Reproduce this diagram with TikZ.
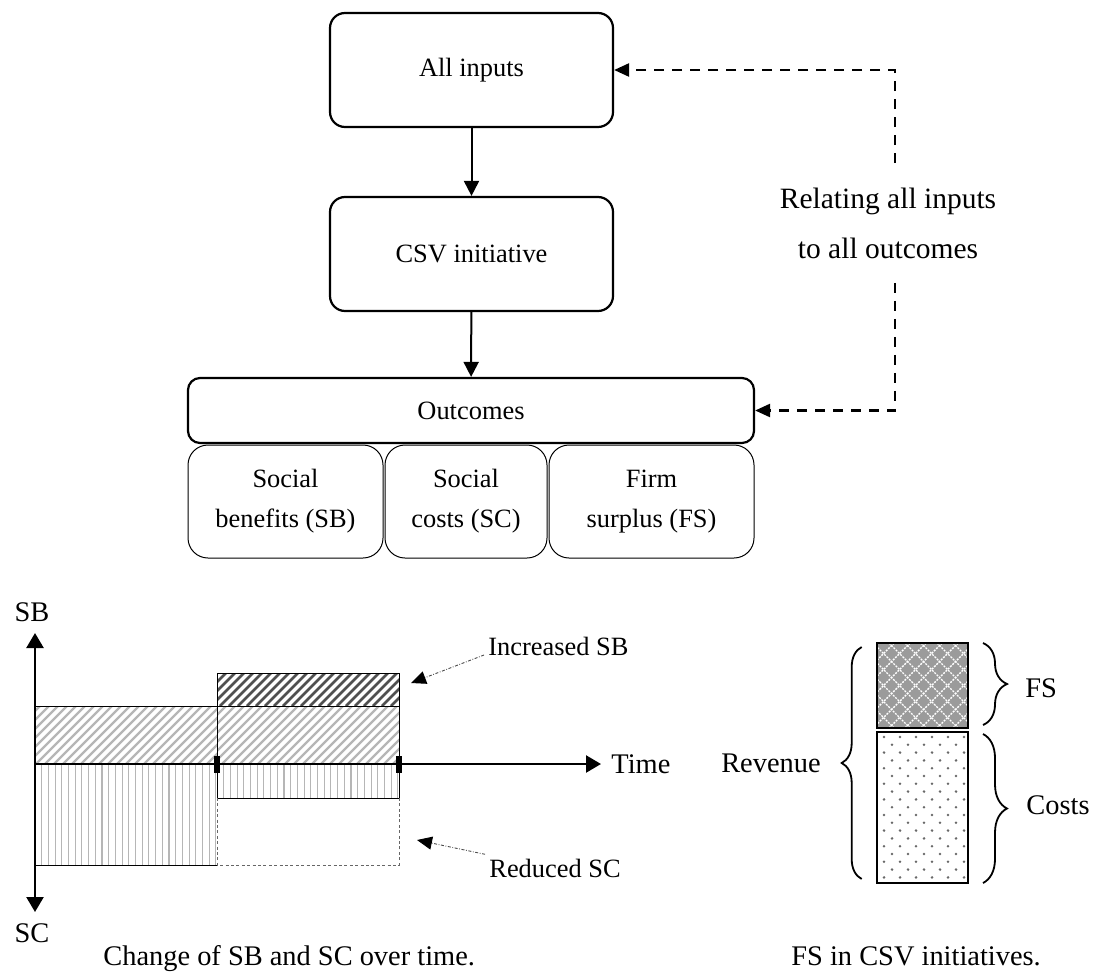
\documentclass[tikz,border=0pt]{standalone}
\usepackage{fontspec}
\setmainfont{Liberation Serif}
\usetikzlibrary{arrows.meta,decorations.pathreplacing}

\newcommand\boxfont{\fontsize{13.2}{20}\selectfont}
\newcommand\labfont{\fontsize{14.2}{24}\selectfont}
\newcommand\relfont{\fontsize{14.75}{25}\selectfont}

\definecolor{hatchlight}{RGB}{182,182,182}
\definecolor{hatchdark}{RGB}{80,80,80}
\definecolor{fsgray}{RGB}{155,155,155}
\definecolor{dotgray}{RGB}{105,105,105}

\tikzset{
  axistip/.tip={Triangle[length=7.5pt,width=8.5pt]},
  mainbox/.style={draw, line width=1.1pt, rounded corners=7.5pt,
    minimum width=141.5pt, minimum height=57pt, inner sep=0pt, font=\boxfont},
  outbox/.style={draw, line width=1.1pt, rounded corners=6pt,
    minimum width=283pt, minimum height=32.5pt, inner sep=0pt, font=\boxfont},
  subbox/.style={draw, line width=0.5pt, rounded corners=10pt,
    minimum height=56.5pt, inner sep=0pt, font=\boxfont, align=center},
  flow/.style={line width=1pt, -{Triangle[length=7.5pt,width=7.5pt]}},
  feedback/.style={line width=1.2pt, dash pattern=on 5pt off 4pt,
    -{Triangle[length=7.5pt,width=6.5pt]}},
  axisline/.style={line width=1.2pt},
  thinbox/.style={line width=0.5pt},
  dashbox/.style={line width=0.4pt, draw=black!60, dash pattern=on 1.5pt off 1.2pt},
  hatchl/.style={line width=1.2pt, draw=hatchlight},
  hatchd/.style={line width=1.3pt, draw=hatchdark},
  vline/.style={line width=0.55pt, draw=hatchlight},
  annot/.style={line width=0.45pt, draw=black!70,
    dash pattern=on 1.5pt off 0.8pt on 0.4pt off 0.8pt,
    -{Triangle[length=7.5pt,width=6.5pt,color=black]}},
  chartlabel/.style={font=\labfont, inner sep=0pt},
  notelabel/.style={font=\boxfont, inner sep=2pt},
  bracebar/.style={line width=0.9pt, decorate},
}

\begin{document}
\begin{tikzpicture}[x=0.5pt,y=-0.5pt]
\useasboundingbox (0,0) rectangle (1107,974);

% ---------- flow chart ----------
\node[mainbox] (inp) at (471.5,70) {All inputs};
\node[mainbox] (csv) at (471.5,254) {CSV initiative};
\node[outbox] (out) at (471,410.5) {Outcomes};
\node[subbox, minimum width=97.5pt] (sb) at (285.5,501.5) {Social\\benefits (SB)};
\node[subbox, minimum width=81pt] (sc) at (466,501.5) {Social\\costs (SC)};
\node[subbox, minimum width=102.5pt] (fs) at (651.5,501.5) {Firm\\surplus (FS)};

\draw[flow] (inp) -- (csv);
\draw[flow] (csv) -- (out);

\node[font=\relfont, align=center, inner xsep=2pt, inner ysep=12pt] (rel) at (888,223)
  {Relating all inputs\\to all outcomes};
\coordinate (c1) at (895,70);
\coordinate (c2) at (895,410.5);
\draw[feedback] (rel.north -| c1) -- (c1) -- (inp.east);
\draw[feedback] (rel.south -| c1) -- (c2) -- (out.east);

% ---------- SB / SC over time ----------
% hatched social benefits, first period
\begin{scope}
  \clip (35,706) rectangle (217,764);
  \foreach \k in {-63,-54,...,225} \draw[hatchl] (\k,764) -- ++(70,-70);
\end{scope}
% hatched social benefits, second period
\begin{scope}
  \clip (217,706) rectangle (399,764);
  \foreach \k in {150,159,...,405} \draw[hatchl] (\k,764) -- ++(70,-70);
\end{scope}
% increased social benefits
\begin{scope}
  \clip (217,673) rectangle (399,706);
  \foreach \k in {175,184,...,405} \draw[hatchd] (\k,706) -- ++(40,-40);
\end{scope}
% social costs, first period
\begin{scope}
  \clip (35,764) rectangle (217,865);
  \foreach \k in {41.7,48.4,...,217} \draw[vline] (\k,764) -- (\k,865);
\end{scope}
% social costs, second period
\begin{scope}
  \clip (217,764) rectangle (399,798);
  \foreach \k in {223.7,230.4,...,399} \draw[vline] (\k,764) -- (\k,798);
\end{scope}

\draw[thinbox] (35,706) rectangle (217,764);
\draw[thinbox] (217,673) rectangle (399,764);
\draw[thinbox] (217,706) -- (399,706);
\draw[thinbox] (35,865) -- (217,865);
\draw[thinbox] (217,764) rectangle (399,798);
\draw[dashbox] (217,798) -- (217,865) -- (399,865) -- (399,798);

% axes
\node[chartlabel] (sbl) at (32,612) {SB};
\node[chartlabel] (scl) at (32,933) {SC};
\node[chartlabel, anchor=west] (time) at (611,764) {Time};
\coordinate (ytop) at (35,633);
\coordinate (ybot) at (35,912);
\coordinate (orig) at (35,764);
\draw[axisline, axistip-axistip] (ybot) -- (ytop);
\draw[axisline, -axistip, shorten >=5pt] (orig) -- (time.west);
\fill (214,756) rectangle (220,773);
\fill (396,756) rectangle (402,773);

% notes
\node[notelabel, anchor=base west] (incl) at (484,655) {Increased SB};
\node[notelabel, anchor=base west] (redl) at (485,877) {Reduced SC};
\coordinate (tipinc) at (411,683);
\coordinate (tipred) at (417,840);
\draw[annot] (incl.base west) -- (tipinc);
\draw[annot] (redl.north west) -- (tipred);

\node[chartlabel, anchor=base west] (cap1) at (103,965) {Change of SB and SC over time.};

% ---------- FS in CSV initiatives ----------
\begin{scope}
  \clip (877,643) rectangle (968,728);
  \fill[fsgray] (877,643) rectangle (968,728);
  \foreach \k in {-100,-84,...,110} {
    \draw[white, line width=0.7pt, dash pattern=on 1pt off 0.6pt] (877+\k,728) -- ++(100,-100);
    \draw[white, line width=0.7pt, dash pattern=on 1pt off 0.6pt] (877+\k,643) -- ++(100,100);
  }
\end{scope}
\draw[line width=1.1pt] (877,643) rectangle (968,728);

\begin{scope}
  \clip (877,732) rectangle (968,883);
  \foreach \i in {0,...,18} {
    \foreach \j in {-1,...,6} {
      \fill[dotgray] ({884+16*\j+8*mod(\i,2)},{737+7.8*\i}) circle (0.7pt);
    }
  }
\end{scope}
\draw[line width=1.1pt] (877,732) rectangle (968,883);

\draw[bracebar, decoration={brace, amplitude=10pt}] (861.7,879) -- (861.7,647);
\draw[bracebar, decoration={brace, amplitude=12pt}] (983,643) -- (983,725);
\draw[bracebar, decoration={brace, amplitude=12pt}] (983,734) -- (983,883);

\node[chartlabel, anchor=east] (rev) at (821,763) {Revenue};
\node[chartlabel, anchor=west] (fsl) at (1025,688) {FS};
\node[chartlabel, anchor=west] (costl) at (1026,805) {Costs};

\node[chartlabel, anchor=base west] (cap2) at (791,965) {FS in CSV initiatives.};
\end{tikzpicture}
\end{document}
